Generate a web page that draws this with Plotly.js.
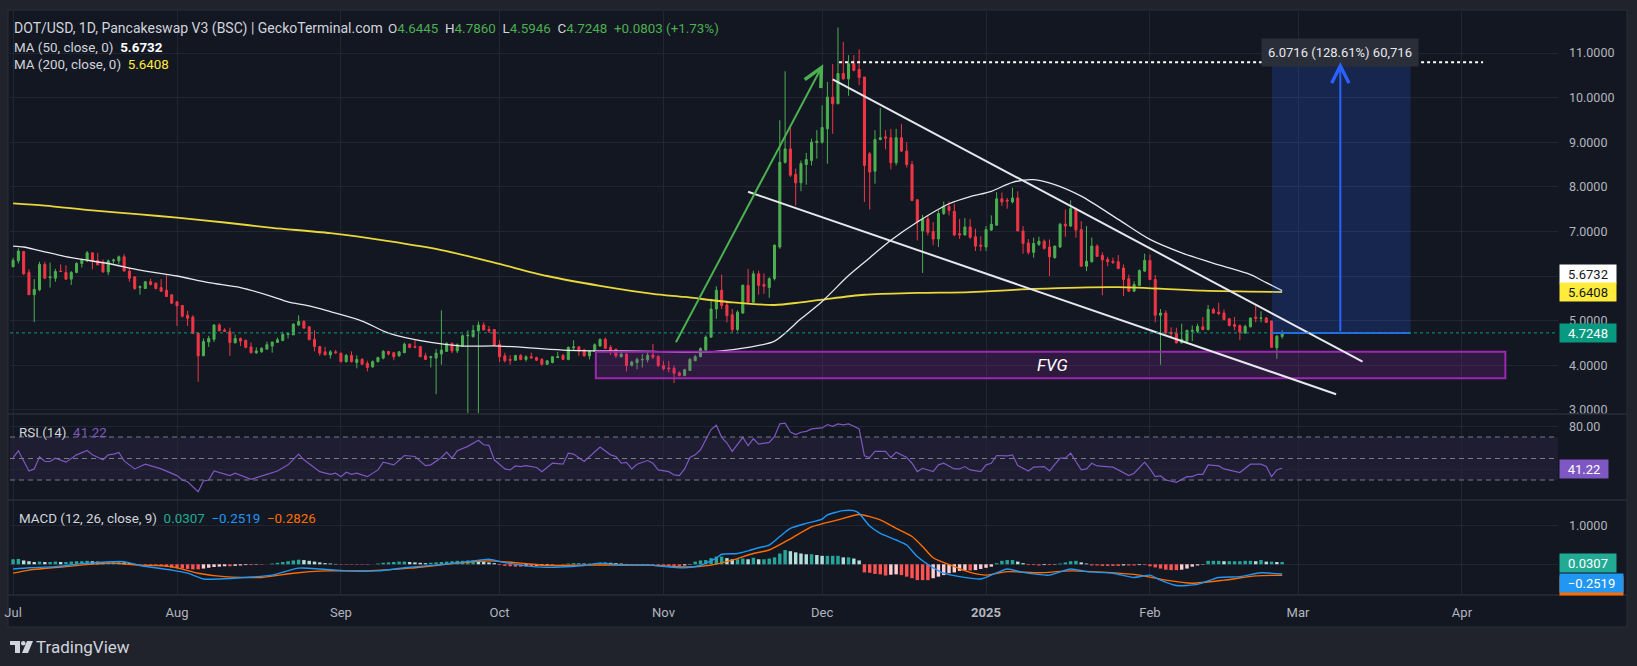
<!DOCTYPE html>
<html><head><meta charset="utf-8">
<script src="https://cdn.plot.ly/plotly-3.0.1.min.js"></script>
<style>html,body{margin:0;padding:0;background:#20232c;overflow:hidden}#chart{width:1637px;height:666px}</style>
</head><body><div id="chart"></div>
<script>
// ---------- DATA ----------
const startDate = '2024-07-01'; // first daily candle, one candle per day
const opens = [
6.21,6.34,6.55,6.08,5.58,5.69,6.26,5.96,5.95,6.11, 6.08,5.93,6.08,6.28,6.34,6.52,6.35,6.31,6.09,6.34,
6.34,6.43,6.11,5.98,5.74,5.72,5.87,5.84,5.74,5.68, 5.58,5.42,5.34,5.12,5.08,4.72,4.21,4.52,4.58,4.90,
4.79,4.75,4.50,4.60,4.56,4.41,4.28,4.30,4.36,4.43, 4.51,4.55,4.69,4.68,4.90,4.98,4.86,4.58,4.42,4.30,
4.23,4.30,4.27,4.08,4.22,4.06,4.13,4.04,3.96,4.08, 4.16,4.31,4.28,4.21,4.28,4.47,4.42,4.42,4.21,4.17,
4.16,4.25,4.31,4.49,4.32,4.43,4.66,4.64,4.77,4.90, 4.80,4.80,4.47,4.21,4.13,4.11,4.22,4.13,4.19,4.17,
4.13,4.02,4.06,4.17,4.22,4.13,4.39,4.41,4.34,4.21, 4.31,4.43,4.58,4.40,4.36,4.19,4.25,4.00,4.06,4.12,
4.12,4.23,4.20,3.99,3.94,3.93,3.83,3.77,3.88,4.10, 4.19,4.34,4.63,5.26,5.68,5.35,5.13,4.80,5.17,5.79,
5.41,6.05,5.81,5.74,5.94,6.65,8.55,8.85,8.28,8.09, 8.50,8.59,8.99,9.00,9.30,10.01,9.86,10.54,10.42,10.76,
10.63,10.46,8.74,8.35,9.06,9.12,9.10,8.54,9.10,8.80, 8.50,7.71,7.01,7.28,7.00,6.83,7.40,7.56,7.45,6.95,
6.92,7.10,6.88,6.69,6.65,7.03,7.14,7.73,7.70,7.66, 7.75,7.01,6.74,6.53,6.71,6.78,6.65,6.41,6.65,7.16,
7.12,7.51,7.04,6.22,6.32,6.67,6.46,6.37,6.33,6.32, 6.18,5.94,5.66,5.79,6.11,6.35,5.92,5.12,5.17,4.74,
4.72,4.50,4.54,4.76,4.76,4.86,4.80,5.25,5.19,5.17, 5.04,4.91,4.89,4.72,4.86,5.08,5.05,5.06,4.99,4.39,
4.6445];
const highs = [
6.41,6.62,6.55,6.15,5.93,6.32,6.32,6.30,6.16,6.26, 6.24,6.11,6.31,6.39,6.56,6.52,6.52,6.37,6.37,6.39,
6.46,6.49,6.19,6.00,5.79,5.89,5.94,5.85,5.93,6.02, 5.58,5.44,5.34,5.22,5.12,4.73,4.60,4.66,4.92,4.94,
4.83,4.84,4.69,4.62,4.57,4.51,4.40,4.40,4.53,4.52, 4.62,4.75,4.73,4.94,5.12,5.01,4.88,4.78,4.43,4.41,
4.34,4.34,4.28,4.25,4.31,4.22,4.16,4.10,4.11,4.19, 4.34,4.31,4.30,4.32,4.51,4.49,4.58,4.43,4.28,4.21,
4.36,5.23,4.51,4.51,4.49,4.69,4.78,4.90,4.98,4.96, 4.88,4.80,4.56,4.28,4.22,4.22,4.25,4.22,4.28,4.19,
4.16,4.11,4.19,4.30,4.25,4.42,4.56,4.43,4.37,4.32, 4.49,4.60,4.62,4.45,4.36,4.30,4.27,4.10,4.17,4.25,
4.30,4.48,4.22,4.10,4.10,3.99,3.86,3.92,4.16,4.23, 4.40,4.67,5.49,5.77,6.03,5.45,5.26,5.23,5.81,6.16,
6.12,6.12,6.06,5.97,6.71,9.49,10.59,9.36,8.41,8.59, 8.76,9.08,9.27,9.83,10.35,10.75,11.57,11.25,10.95,10.95,
11.08,10.46,8.78,9.27,9.77,9.27,9.30,9.30,9.41,9.00, 8.58,7.71,7.37,7.36,7.21,7.47,7.67,7.67,7.62,7.28,
7.30,7.28,7.06,6.89,7.12,7.36,7.88,7.87,7.75,7.98, 7.90,7.12,6.83,6.86,6.88,6.82,6.82,6.68,7.19,7.49,
7.70,7.53,7.23,7.12,6.86,6.71,6.53,6.43,6.41,6.47, 6.26,6.03,5.88,6.15,6.50,6.48,6.02,5.26,5.23,4.85,
4.84,4.93,4.80,4.89,4.93,5.08,5.35,5.29,5.40,5.25, 5.06,5.08,4.91,4.91,5.06,5.34,5.21,5.08,5.00,4.68,
4.786];
const lows = [
6.19,6.28,6.02,5.58,4.97,5.66,5.93,5.74,5.87,6.10, 5.91,5.80,6.06,6.19,6.31,6.15,6.25,6.08,6.02,6.28,
6.26,6.11,5.87,5.69,5.58,5.72,5.79,5.70,5.64,5.54, 5.37,4.88,5.07,4.88,4.71,3.63,4.21,4.41,4.52,4.77,
4.75,4.21,4.50,4.43,4.38,4.26,4.25,4.28,4.36,4.28, 4.51,4.55,4.60,4.68,4.88,4.83,4.57,4.31,4.21,4.23,
4.15,4.25,4.06,4.06,4.06,3.93,4.01,3.86,3.95,4.06, 4.13,4.22,4.11,4.19,4.27,4.38,4.38,4.19,4.13,3.95,
3.35,4.01,4.30,4.27,4.27,4.42,2.93,4.62,2.93,4.79, 4.72,4.43,4.07,4.06,4.01,4.11,4.11,4.08,4.16,4.10,
3.99,4.01,4.04,4.17,4.12,4.11,4.32,4.21,4.19,4.13, 4.30,4.42,4.36,4.23,4.16,4.17,3.86,3.97,3.91,3.95,
4.06,4.14,3.96,3.88,3.84,3.60,3.75,3.75,3.88,4.10, 4.18,4.29,4.61,5.04,5.26,4.96,4.74,4.76,5.15,5.40,
5.40,5.58,5.60,5.51,5.90,6.61,8.52,8.22,7.58,7.90, 8.05,8.48,8.63,8.97,8.52,9.19,9.86,10.40,10.04,10.59,
10.28,7.66,7.49,8.07,9.04,8.84,8.39,8.48,8.78,8.43, 7.69,6.80,6.07,6.91,6.69,6.65,7.37,7.36,6.89,6.83,
6.91,6.83,6.56,6.56,6.56,7.01,7.13,7.57,7.51,7.63, 7.01,6.50,6.48,6.41,6.67,6.59,6.00,6.39,6.63,6.88,
7.10,6.86,6.22,6.11,6.30,6.43,5.57,6.22,6.27,6.15, 5.55,5.64,5.64,5.77,6.09,5.91,4.96,4.01,4.70,4.63,
4.49,4.49,4.52,4.54,4.72,4.78,4.78,5.15,5.12,5.01, 4.87,4.78,4.56,4.71,4.85,4.96,4.96,4.95,4.40,4.14,
4.5946];
const closes = [
6.35,6.56,6.05,5.58,5.70,6.26,5.95,5.98,6.10,6.10, 5.93,6.08,6.28,6.37,6.52,6.34,6.25,6.09,6.34,6.36,
6.43,6.11,5.95,5.72,5.76,5.87,5.81,5.72,5.66,5.54, 5.39,5.33,5.10,5.05,4.71,4.21,4.53,4.60,4.90,4.77,
4.76,4.51,4.60,4.54,4.40,4.28,4.32,4.38,4.46,4.52, 4.57,4.69,4.71,4.92,4.98,4.83,4.57,4.42,4.27,4.23,
4.30,4.28,4.08,4.22,4.08,4.13,4.02,3.95,4.08,4.17, 4.31,4.25,4.19,4.30,4.47,4.40,4.40,4.19,4.13,4.19,
4.27,4.34,4.49,4.32,4.46,4.66,4.67,4.78,4.90,4.79, 4.77,4.45,4.19,4.10,4.11,4.22,4.13,4.19,4.16,4.11,
4.02,4.10,4.19,4.19,4.13,4.40,4.41,4.32,4.21,4.32, 4.46,4.58,4.38,4.32,4.21,4.25,3.99,4.07,4.13,4.13,
4.22,4.18,3.99,3.92,3.92,3.82,3.77,3.90,4.13,4.19, 4.37,4.63,5.26,5.68,5.34,5.11,4.80,5.19,5.79,5.41,
6.05,5.79,5.77,5.94,6.69,8.55,8.85,8.26,8.09,8.52, 8.61,9.00,9.02,9.33,10.01,9.86,10.54,10.42,10.76,10.61,
10.45,8.48,8.33,9.06,9.10,9.09,8.54,9.10,8.80,8.50, 7.69,7.21,7.28,6.98,6.83,7.40,7.56,7.47,6.92,6.92,
7.10,6.87,6.67,6.67,7.04,7.16,7.73,7.66,7.68,7.75, 7.01,6.73,6.53,6.73,6.78,6.62,6.43,6.67,7.16,7.12,
7.51,7.03,6.22,6.33,6.67,6.44,6.36,6.32,6.30,6.17, 5.92,5.66,5.81,6.12,6.35,5.92,5.12,5.17,4.72,4.70,
4.50,4.58,4.78,4.78,4.87,4.80,5.25,5.17,5.16,5.02, 4.89,4.87,4.74,4.87,5.06,5.05,5.06,4.96,4.40,4.65,
4.7248];
const histVals = [
0.13,0.14,0.10,0.08,0.06,0.07,0.06,0.06,0.07,0.06, 0.06,0.07,0.08,0.08,0.09,0.08,0.07,0.06,0.07,0.07,
0.08,0.05,0.03,0.01,-0.01,-0.02,-0.03,-0.04,-0.05,-0.07, -0.09,
-0.10,-0.11,-0.12,-0.13,-0.13,-0.11,-0.09,-0.07,-0.06,-0.05, -0.05,-0.04,-0.03,-0.02,-0.02,-0.01,-0.01,0.00,0.02,0.04,
0.06,0.08,0.10,0.12,0.11,0.09,0.07,0.05,0.03,0.02, 0.01,
-0.01,-0.01,-0.01,-0.01,-0.01,-0.01,0.00,0.02,0.04,0.05, 0.06,0.07,0.07,0.06,0.05,0.04,0.03,0.04,0.05,0.06,
0.07,0.08,0.09,0.09,0.10,0.10,0.09,0.07,0.05,0.03,
-0.02,-0.04,-0.05,-0.06,-0.06,-0.05,-0.05,-0.04,-0.03,-0.02, -0.01,0.00,0.01,0.02,0.03,0.03,0.02,0.02,0.03,0.04,
0.05,0.04,0.03,0.02,0.01,-0.01,-0.02,-0.02,-0.01,-0.02, -0.03,
-0.03,-0.04,-0.05,-0.05,-0.03,-0.01,0.07,0.10,0.11,0.16, 0.20,0.20,0.16,0.13,0.13,0.15,0.13,0.17,0.13,0.13,
0.15,0.18,0.28,0.37,0.34,0.31,0.28,0.26,0.26,0.24,
0.22,0.22,0.22,0.22,0.18,0.18,0.15,0.10,-0.21,-0.22, -0.25,-0.26,-0.29,-0.27,-0.26,-0.28,-0.32,-0.36,-0.41,-0.41,
-0.41,-0.36,-0.32,-0.28,-0.23,-0.21,-0.17,-0.16,-0.16,-0.15, -0.12,
-0.09,-0.06,0.03,0.09,0.11,0.11,0.07,0.03,-0.02,-0.02, -0.03,-0.02,-0.02,-0.01,0.02,0.05,0.08,0.09,0.05,0.02,
-0.03,-0.03,-0.04,-0.04,-0.04,-0.04,-0.03,-0.03,-0.03,-0.02, -0.02,
-0.05,-0.08,-0.11,-0.14,-0.15,-0.15,-0.14,-0.11,-0.06,-0.03, -0.01,0.09,0.09,0.09,0.08,0.08,0.08,0.08,0.09,0.09,
0.08,0.11,0.07,0.07,0.06,0.06];

const ma50Dates = ['2024-07-01','2024-07-03','2024-07-06','2024-07-12','2024-07-19','2024-07-25','2024-08-01','2024-08-07','2024-08-13','2024-08-19','2024-08-22','2024-08-26','2024-08-30','2024-09-05','2024-09-10','2024-09-18','2024-09-24','2024-10-01','2024-10-13','2024-10-30','2024-11-05','2024-11-11','2024-11-17','2024-11-22','2024-11-27','2024-12-01','2024-12-06','2024-12-09','2024-12-14','2024-12-19','2024-12-25','2024-12-29','2025-01-02','2025-01-06','2025-01-10','2025-01-14','2025-01-19','2025-01-26','2025-02-01','2025-02-07','2025-02-14','2025-02-20','2025-02-23','2025-02-26'];
const ma50Vals = [6.67,6.65,6.57,6.41,6.28,6.13,6.00,5.85,5.74,5.54,5.42,5.33,5.20,4.99,4.72,4.51,4.43,4.43,4.34,4.31,4.29,4.31,4.40,4.54,5.04,5.43,6.01,6.31,6.80,7.21,7.62,7.78,7.90,8.10,8.16,8.05,7.79,7.27,6.82,6.52,6.25,6.03,5.85,5.6732];
const ma200Dates = ['2024-07-01','2024-07-07','2024-07-16','2024-07-25','2024-08-01','2024-08-10','2024-08-19','2024-08-30','2024-09-10','2024-09-20','2024-09-30','2024-10-10','2024-10-20','2024-10-30','2024-11-05','2024-11-14','2024-11-22','2024-11-27','2024-12-01','2024-12-09','2024-12-19','2024-12-29','2025-01-10','2025-01-26','2025-02-11','2025-02-26'];
const ma200Vals = [7.63,7.58,7.47,7.38,7.31,7.20,7.08,6.96,6.78,6.58,6.30,6.00,5.78,5.60,5.53,5.41,5.35,5.41,5.47,5.58,5.62,5.64,5.71,5.75,5.67,5.6408];

// RSI(14), MACD line and signal line: day number counted from startDate, value
const rsiDays = [0,1,3,4,5,6,7,8,10,12,14,15,17,18,19,20,21,23,25,28,31,32,33,35,36,37,38,39,41,42,45,48,50,52,54,55,58,60,61,62,63,64,65,67,69,70,72,74,76,78,79,81,82,83,84,86,88,89,90,91,93,94,95,96,97,99,100,102,104,105,106,108,111,113,114,115,116,117,118,
120,121,122,124,125,126,127,128,129,130,132,133,134,135,136,138,139,140,141,143,144,145,146,147,148,149,150,151,153,154,155,156,157,158,159,160,161,162,163,165,166,167,169,170,171,172,174,175,176,178,179,180,181,183,184,185,186,188,189,190,192,193,195,196,198,199,200,202,203,204,205,208,209,211,212,214,215,216,217,218,220,222,223,224,225,226,228,229,232,234,236,237,238,239,240];
const rsiVals = [50.9,57.2,38.4,40.3,51.6,47.2,47.2,50.3,46.6,53.4,57.5,53.4,48.8,53.4,54.1,55.6,47.8,40.3,44.7,40.3,34.1,30.0,28.4,19.1,29.1,30.0,38.4,37.2,34.1,36.3,30.6,35.3,38.4,44.1,54.1,48.8,37.8,35.3,36.3,33.1,37.2,35.3,36.3,33.1,39.4,46.6,44.1,52.8,51.9,43.4,44.1,50.9,55.9,50.3,57.2,61.3,66.9,62.8,62.2,48.8,40.3,39.4,43.1,42.5,43.4,41.6,37.8,45.6,44.7,55.0,54.1,47.2,60.6,53.4,51.9,45.6,46.3,40.3,44.7,
48.1,45.6,39.4,37.8,34.7,34.1,40.3,50.9,53.4,58.1,76.9,80.9,69.7,64.4,56.6,69.7,61.9,68.4,63.4,65.0,70.6,82.2,82.8,74.7,72.2,74.4,75.3,77.5,78.4,81.6,80.0,82.2,81.3,82.2,80.0,77.5,52.5,50.9,56.6,56.6,50.9,55.9,50.9,45.6,37.8,40.9,37.8,44.1,45.6,40.3,40.3,42.5,39.4,37.8,44.1,45.6,52.8,52.5,53.4,43.4,38.4,41.9,42.5,38.4,50.3,50.3,55.0,39.4,40.3,45.6,43.1,41.9,39.4,34.1,36.3,46.6,40.3,33.1,33.8,30.0,27.8,33.1,33.1,35.3,35.3,44.1,43.1,40.3,36.9,44.7,44.7,42.5,33.1,39.4,41.22];
const macdDays = [0,3,8,14,21,24,30,33,36,39,44,49,54,58,63,69,74,80,86,90,92,96,101,108,111,115,120,127,130,133,134,137,139,141,143,145,147,150,153,154,157,159,160,162,164,167,169,171,174,176,179,183,185,188,191,196,200,203,208,212,215,217,220,224,228,232,236,240];
const macdVals = [-0.12,-0.09,-0.06,0.03,0.07,-0.03,-0.15,-0.23,-0.38,-0.38,-0.34,-0.28,-0.10,-0.12,-0.17,-0.17,-0.09,-0.02,0.07,0.13,0.07,-0.02,-0.08,-0.03,0.03,-0.02,-0.02,-0.09,-0.03,0.16,0.26,0.28,0.35,0.43,0.50,0.72,0.93,1.06,1.17,1.28,1.39,1.39,1.32,0.99,0.80,0.63,0.50,0.20,-0.09,-0.23,-0.32,-0.38,-0.28,-0.12,-0.21,-0.28,-0.12,-0.19,-0.23,-0.34,-0.28,-0.41,-0.55,-0.52,-0.34,-0.32,-0.22,-0.2519];
const signalDays = [0,3,10,18,24,30,35,40,47,53,59,67,75,84,90,96,101,109,120,127,132,136,140,143,147,151,156,160,164,167,170,172,174,178,181,184,188,194,200,207,213,218,223,229,235,240];
const signalVals = [-0.23,-0.15,-0.06,0.03,-0.02,-0.06,-0.23,-0.32,-0.34,-0.23,-0.17,-0.17,-0.10,0.03,0.09,0.03,-0.03,-0.02,-0.02,-0.07,-0.02,0.11,0.28,0.37,0.66,0.97,1.15,1.29,1.15,0.93,0.72,0.46,0.17,-0.06,-0.21,-0.28,-0.19,-0.22,-0.17,-0.21,-0.28,-0.41,-0.49,-0.41,-0.30,-0.2826];

const monthTicks = ['2024-07-01','2024-08-01','2024-09-01','2024-10-01','2024-11-01','2024-12-01','2025-01-01','2025-02-01','2025-03-01','2025-04-01'];
const monthLabels = ['Jul','Aug','Sep','Oct','Nov','Dec','<b>2025</b>','Feb','Mar','Apr'];
const priceTicks = [3,4,5,6,7,8,9,10,11];
const priceTickText = ['3.0000','4.0000','5.0000','6.0000','7.0000','8.0000','9.0000','10.0000','11.0000'];
const lastVals = {ma50:'5.6732', ma200:'5.6408', close:'4.7248', rsi:'41.22', hist:'0.0307', macd:'\u22120.2519', signal:'\u22120.2826'};
const measureText = '6.0716 (128.61%) 60,716';
const measureLow = 4.7248, measureHigh = 10.7964;

// ---------- helpers ----------
const W = 1637, H = 666;
const px = v => v / W, py = v => 1 - v / H;
const T0 = Date.parse(startDate + 'T00:00:00Z');
const dayToDate = d => new Date(T0 + d * 86400000).toISOString().slice(0, 10);
const dates = opens.map((_, i) => dayToDate(i));
const GREEN = '#4caf50', RED = '#f23645';
const GRID = '#222632', TXT = '#b2b5be';
const FONT = 'Roboto, "Open Sans", sans-serif';

const histColors = histVals.map((v, i) => {
  const p = i > 0 ? histVals[i - 1] : v;
  if (v >= 0) return v >= p ? '#26a69a' : '#b2dfdb';
  return v <= p ? '#ff5252' : '#ffcdd2';
});

const traces = [
  {type:'bar', x:dates, y:histVals, xaxis:'x', yaxis:'y3', marker:{color:histColors, line:{width:0}}, hoverinfo:'skip'},
  {type:'scatter', mode:'lines', x:signalDays.map(dayToDate), y:signalVals, xaxis:'x', yaxis:'y3', line:{color:'#ff6d00', width:1.4, shape:'spline', smoothing:0.6}, hoverinfo:'skip'},
  {type:'scatter', mode:'lines', x:macdDays.map(dayToDate), y:macdVals, xaxis:'x', yaxis:'y3', line:{color:'#2196f3', width:1.4, shape:'spline', smoothing:0.6}, hoverinfo:'skip'},
  {type:'scatter', mode:'lines', x:rsiDays.map(dayToDate), y:rsiVals, xaxis:'x', yaxis:'y2', line:{color:'#7e57c2', width:1.2}, hoverinfo:'skip'},
  {type:'scatter', mode:'lines', x:ma200Dates, y:ma200Vals, xaxis:'x', yaxis:'y', line:{color:'#e9d83a', width:1.8, shape:'spline', smoothing:0.8}, hoverinfo:'skip'},
  {type:'scatter', mode:'lines', x:ma50Dates, y:ma50Vals, xaxis:'x', yaxis:'y', line:{color:'#e8e8ec', width:1.3, shape:'spline', smoothing:0.8}, hoverinfo:'skip'},
  {type:'candlestick', x:dates, open:opens, high:highs, low:lows, close:closes, xaxis:'x', yaxis:'y',
   increasing:{line:{color:GREEN, width:1}, fillcolor:GREEN}, decreasing:{line:{color:RED, width:1}, fillcolor:RED},
   whiskerwidth:0, hoverinfo:'skip'}
];

const X0 = 10, X1 = 1558;
const shapes = [
  {type:'rect', xref:'paper', yref:'paper', x0:px(8), x1:px(1627), y0:py(627), y1:py(10), fillcolor:'#131722', line:{color:'#2a2e39', width:1}, layer:'below'},
  {type:'line', xref:'paper', yref:'paper', x0:px(8), x1:px(1627), y0:py(414), y1:py(414), line:{color:'#2a2e39', width:1.5}},
  {type:'line', xref:'paper', yref:'paper', x0:px(8), x1:px(1627), y0:py(500), y1:py(500), line:{color:'#2a2e39', width:1.5}},
  {type:'line', xref:'paper', yref:'paper', x0:px(8), x1:px(1627), y0:py(595), y1:py(595), line:{color:'#2a2e39', width:1.5}},
  {type:'rect', xref:'paper', yref:'y2', x0:px(X0), x1:px(X1), y0:30, y1:70, fillcolor:'rgba(126,87,194,0.10)', line:{width:0}, layer:'below'},
  {type:'line', xref:'paper', yref:'y2', x0:px(X0), x1:px(X1), y0:70, y1:70, line:{color:'#787b86', width:1, dash:'5px,4px'}},
  {type:'line', xref:'paper', yref:'y2', x0:px(X0), x1:px(X1), y0:50, y1:50, line:{color:'#787b86', width:1, dash:'5px,4px'}},
  {type:'line', xref:'paper', yref:'y2', x0:px(X0), x1:px(X1), y0:30, y1:30, line:{color:'#787b86', width:1, dash:'5px,4px'}},
  {type:'rect', xref:'x', yref:'y', x0:'2024-10-19 05:00', x1:'2025-04-09 05:00', y0:3.71, y1:4.30, fillcolor:'rgba(156,39,176,0.20)', line:{color:'#9c27b0', width:2}},
  {type:'rect', xref:'x', yref:'y', x0:'2025-02-24 02:00', x1:'2025-03-22 07:00', y0:measureLow, y1:measureHigh, fillcolor:'rgba(41,98,255,0.20)', line:{width:0}},
  {type:'line', xref:'x', yref:'y', x0:'2024-12-04 05:00', x1:'2025-04-05 00:00', y0:10.79, y1:10.79, line:{color:'#ffffff', width:2, dash:'dot'}},
  {type:'line', xref:'x', yref:'y', x0:'2025-02-24 02:00', x1:'2025-03-22 07:00', y0:measureHigh, y1:measureHigh, line:{color:'#2962ff', width:2}},
  {type:'line', xref:'x', yref:'y', x0:'2025-02-24 02:00', x1:'2025-03-22 07:00', y0:measureLow, y1:measureLow, line:{color:'#2962ff', width:2}},
  {type:'line', xref:'x', yref:'y', x0:'2024-12-03 00:00', y0:10.41, x1:'2025-03-13 05:00', y1:4.08, line:{color:'#e6e8ee', width:2}},
  {type:'line', xref:'x', yref:'y', x0:'2024-11-17 00:00', y0:7.89, x1:'2025-03-08 05:00', y1:3.35, line:{color:'#e6e8ee', width:2}},
  {type:'line', xref:'paper', yref:'y', x0:px(X0), x1:px(X1), y0:4.7248, y1:4.7248, line:{color:'#089981', width:1, dash:'dot'}},
  {type:'path', xref:'paper', yref:'paper', xsizemode:'pixel', ysizemode:'pixel', xanchor:px(10), yanchor:py(641),
   path:'M0,0 H10 V-12 H5 V-4 H0 Z', fillcolor:'#d1d4dc', line:{width:0}},
  {type:'circle', xref:'paper', yref:'paper', xsizemode:'pixel', ysizemode:'pixel', xanchor:px(10), yanchor:py(641),
   x0:11, x1:15.5, y0:-4.5, y1:0, fillcolor:'#d1d4dc', line:{width:0}},
  {type:'path', xref:'paper', yref:'paper', xsizemode:'pixel', ysizemode:'pixel', xanchor:px(10), yanchor:py(641),
   path:'M17,0 H23 L18,-12 H12 Z', fillcolor:'#d1d4dc', line:{width:0}}
];

const lbl = (y, yref, yshift, text, bg, fg, w) => ({xref:'paper', x:px(1559), xanchor:'left', yref:yref, y:y, yanchor:'middle', yshift:yshift,
  text:text, showarrow:false, bgcolor:bg, font:{color:fg, size:13, family:FONT}, width:w, height:14, borderpad:2, align:'center'});
const span = (c, t) => `<span style="color:${c}">${t}</span>`;
const G = '#4caf50', L = '#d1d4dc';
const legend = (x, y, size, text) => ({xref:'paper', yref:'paper', x:px(x), y:py(y), xanchor:'left', yanchor:'middle', showarrow:false, font:{size:size, color:L, family:FONT}, text:text});

const annotations = [
  legend(12, 28, 14, 'DOT/USD, 1D, Pancakeswap V3 (BSC) | GeckoTerminal.com'),
  legend(386, 28, 13.4, 'O' + span(G,'4.6445') + '&nbsp;&nbsp;H' + span(G,'4.7860') + '&nbsp;&nbsp;L' + span(G,'4.5946') + '&nbsp;&nbsp;C' + span(G,'4.7248') + '&nbsp;&nbsp;' + span(G,'+0.0803 (+1.73%)')),
  legend(12, 47, 13.4, 'MA (50, close, 0)&nbsp;&nbsp;' + span('#ffffff','<b>' + lastVals.ma50 + '</b>')),
  legend(12, 65, 13.4, 'MA (200, close, 0)&nbsp;&nbsp;' + span('#ffeb3b', lastVals.ma200)),
  legend(17, 432, 13.4, 'RSI (14)&nbsp;&nbsp;' + span('#7e57c2', lastVals.rsi)),
  legend(17, 518, 13.4, 'MACD (12, 26, close, 9)&nbsp;&nbsp;' + span('#22ab94', lastVals.hist) + '&nbsp;&nbsp;' + span('#2196f3', lastVals.macd) + '&nbsp;&nbsp;' + span('#ff6d00', lastVals.signal)),
  {xref:'x', yref:'y', x:'2025-01-13 12:00', y:4.005, text:'<i>FVG</i>', showarrow:false, font:{size:17, color:'#ffffff', family:FONT}},
  {xref:'x', yref:'paper', x:'2025-03-09 00:00', y:py(38), text:measureText, showarrow:false, bgcolor:'#2a2e39', borderpad:6, font:{size:13, color:'#e6e8ee', family:FONT}},
  {xref:'x', yref:'y', axref:'x', ayref:'y', x:'2025-03-09 00:00', y:measureHigh, ax:'2025-03-09 00:00', ay:measureLow, text:'', showarrow:true,
   arrowhead:5, arrowsize:1.7, arrowwidth:2, arrowcolor:'#2962ff', standoff:0},
  {xref:'x', yref:'y', axref:'x', ayref:'y', x:'2024-12-01 05:00', y:10.75, ax:'2024-11-03 05:00', ay:4.48, text:'', showarrow:true,
   arrowhead:5, arrowsize:1.8, arrowwidth:2, arrowcolor:'#4caf50', standoff:0},
  lbl(5.6732, 'y', 17, lastVals.ma50, '#ffffff', '#131722', 52),
  lbl(5.6408, 'y', 0, lastVals.ma200, '#ffeb3b', '#131722', 52),
  lbl(4.7248, 'y', 0, lastVals.close, '#089981', '#ffffff', 52),
  lbl(41.22, 'y2', -1, lastVals.rsi, '#7e57c2', '#ffffff', 44),
  lbl(0.0307, 'y3', 0, lastVals.hist, '#22ab94', '#ffffff', 52),
  lbl(-0.2826, 'y3', -11, lastVals.signal, '#ff6d00', '#ffffff', 59),
  lbl(-0.2519, 'y3', -9, lastVals.macd, '#2196f3', '#ffffff', 59),
  {xref:'paper', yref:'paper', x:px(34), y:py(647), xanchor:'left', yanchor:'middle', showarrow:false, text:'TradingView', font:{size:17, color:'#d1d4dc', family:FONT}}
];

const yCommon = {side:'right', anchor:'x', ticks:'', showline:false, zeroline:false, gridcolor:GRID, gridwidth:1, fixedrange:true,
  tickfont:{size:12.5, color:TXT, family:FONT}, ticklabelstandoff:10};

const layout = {
  width:W, height:H, margin:{l:0, r:0, t:0, b:0},
  paper_bgcolor:'#20232c', plot_bgcolor:'rgba(0,0,0,0)',
  showlegend:false, dragmode:false, bargap:0.35, boxgap:0.45,
  font:{family:FONT, color:TXT, size:13},
  xaxis:{type:'date', domain:[px(X0), px(X1)], range:['2024-06-30 10:00', '2025-04-19 04:00'], anchor:'y3',
    tickvals:monthTicks, ticktext:monthLabels, showgrid:true, gridcolor:GRID, ticks:'', showline:false, zeroline:false,
    rangeslider:{visible:false}, tickfont:{size:13, color:TXT, family:FONT}, ticklabelstandoff:8, fixedrange:true},
  yaxis:Object.assign({}, yCommon, {domain:[py(414), py(10)], range:[2.906, 11.964], tickvals:priceTicks, ticktext:priceTickText}),
  yaxis2:Object.assign({}, yCommon, {domain:[py(500), py(414)], range:[11.4, 91.4], tickvals:[40, 80], ticktext:['', '80.00']}),
  yaxis3:Object.assign({}, yCommon, {domain:[py(595), py(500)], range:[-0.795, 1.666], tickvals:[0, 1], ticktext:['', '1.0000']}),
  shapes:shapes, annotations:annotations
};

Plotly.newPlot('chart', traces, layout, {displayModeBar:false, staticPlot:true});
</script></body></html>
